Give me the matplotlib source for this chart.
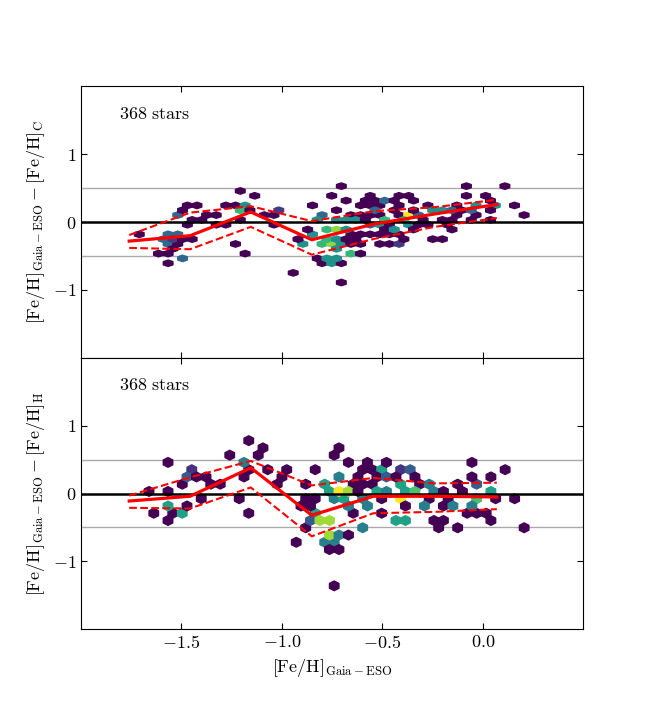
import numpy as np
import matplotlib
matplotlib.use("Agg")
import matplotlib.pyplot as plt

plt.rcParams['font.family'] = 'serif'
plt.rcParams['font.serif'] = ['cmr10', 'DejaVu Serif']
plt.rcParams['mathtext.fontset'] = 'cm'
plt.rcParams['axes.formatter.use_mathtext'] = True
plt.rcParams['font.size'] = 13

# hexbin cells: x, y, number of stars
top_x = [-1.710, -1.573, -1.522, -1.598, -1.548, -1.573, -1.517, -1.482, -1.441,
         -1.619, -1.568, -1.543, -1.568, -1.497, -1.527, -1.507, -1.482, -1.431,
         -1.466, -1.446, -1.395, -1.375, -1.324, -1.324, -1.273, -1.273, -1.223,
         -1.212, -1.141, -1.182, -1.207, -1.156, -1.090, -1.040, -1.040, -1.019,
         -1.233, -1.182, -1.202, -0.943, -0.999, -0.918, -0.867, -0.847,
         -0.751, -0.677, -0.701, -0.701,
         -0.793, -0.727, -0.677, -0.834, -0.743, -0.685, -0.775, -0.727, -0.677,
         -0.834, -0.785, -0.735, -0.677, -0.810, -0.768, -0.719, -0.661,
         -0.826, -0.775, -0.727, -0.677, -0.793, -0.743, -0.701, -0.884,
         -0.594, -0.544, -0.486, -0.436, -0.394, -0.627, -0.577, -0.528, -0.461,
         -0.410, -0.627, -0.577, -0.511, -0.436, -0.378, -0.627, -0.577, -0.528,
         -0.478, -0.394, -0.461, -0.627, -0.562, -0.511, -0.436, -0.627, -0.511,
         -0.461, -0.410, -0.613,
         -0.369, -0.345, -0.362, -0.328, -0.271, -0.245, -0.195, -0.146, -0.095,
         -0.030, 0.028, -0.129, -0.080, 0.012, -0.080, 0.111, 0.070, 0.161,
         0.206, -0.062, 0.037, -0.146, -0.253, -0.195, -0.146, -0.253, -0.195,
         -0.362, -0.386, -0.403, -0.288, -0.013, 0.037,
         -0.55, -0.50, -0.45, -0.60, -0.48, -0.30, -0.22, -0.12, -0.05, -0.33,
         -0.56, -0.49, -0.71, -0.66]
top_y = [-0.18, -0.18, -0.18, -0.25, -0.25, -0.32, -0.33, -0.25, -0.25,
         -0.45, -0.45, -0.38, -0.60, -0.53, 0.11, 0.18, 0.25, 0.25,
         -0.03, 0.04, 0.04, 0.11, 0.11, -0.03, -0.03, 0.25, 0.25,
         0.46, 0.38, 0.24, 0.17, 0.17, 0.12, 0.12, -0.03, 0.18,
         -0.32, -0.46, 0.01, -0.745, 0.19, -0.255, -0.10, 0.245,
         0.38, 0.32, 0.53, -0.89,
         0.09, 0.15, 0.11, 0.02, 0.04, 0.02, -0.08, -0.10, -0.11,
         -0.16, -0.23, -0.23, -0.23, -0.33, -0.35, -0.33, -0.35,
         -0.50, -0.50, -0.50, -0.48, -0.61, -0.61, -0.61, -0.33,
         0.31, 0.31, 0.32, 0.31, 0.38, 0.235, 0.235, 0.19, 0.19,
         0.235, 0.11, 0.11, 0.09, 0.11, 0.11, 0.02, 0.04, -0.03,
         0.04, 0.04, -0.06, -0.16, -0.16, -0.18, -0.16, -0.28, -0.28,
         -0.28, -0.30, -0.46,
         0.38, 0.31, 0.0, 0.186, 0.245, 0.16, 0.16, 0.16, 0.16,
         0.22, 0.31, 0.245, 0.38, 0.39, 0.53, 0.53, 0.245, 0.245,
         0.10, 0.064, 0.04, 0.04, -0.06, -0.06, -0.10, -0.255, -0.255,
         -0.13, -0.23, -0.30, 0.04, 0.12, 0.15,
         -0.06, -0.10, -0.10, -0.35, -0.20, 0.11, 0.04, 0.11, 0.18, -0.04,
         0.38, 0.25, -0.40, -0.20]
top_n = [1, 3, 3, 3, 2, 3, 1, 1, 1,
         1, 1, 1, 1, 3, 3, 1, 1, 1,
         1, 1, 1, 1, 1, 1, 1, 1, 1,
         1, 1, 4, 5, 1, 1, 1, 1, 1,
         1, 1, 1, 1, 1, 1, 1, 1,
         1, 1, 1, 1,
         3, 1, 1, 4, 4, 4, 5, 6, 4,
         4, 5, 4, 1, 5, 6, 4, 1,
         1, 4, 4, 5, 1, 4, 1, 4,
         1, 1, 3, 1, 1, 1, 1, 3, 1,
         1, 1, 1, 1, 1, 7, 4, 1, 4,
         5, 5, 1, 1, 1, 1, 1, 1, 1,
         1, 1, 1,
         1, 1, 4, 1, 1, 4, 4, 3, 1,
         4, 1, 1, 1, 1, 1, 1, 4, 1,
         1, 1, 1, 1, 1, 1, 1, 1, 1,
         1, 1, 1, 1, 1, 1,
         3, 1, 4, 1, 1, 3, 1, 1, 3, 1,
         1, 1, 4, 1]

bot_x = [-1.685, -1.588, -1.588, -1.517, -1.615, -1.565, -1.588, -1.487,
         -1.544, -1.517, -1.482, -1.466, -1.426, -1.424, -1.375, -1.344, -1.294,
         -1.424, -1.233, -1.182, -1.182, -1.111, -1.131, -1.278, -1.208, -1.172,
         -1.080, -1.208, -1.034, -0.989, -0.943, -0.725,
         -0.725, -0.751, -0.677, -0.844, -0.989, -0.582, -0.486, -0.511, -0.562,
         -0.410, -0.725, -0.801, -0.725, -0.674, -0.775, -0.745, -0.694, -0.897,
         -0.847, -0.918, -0.826, -0.796, -0.745, -0.847, -0.877, -0.775, -0.725,
         -0.677, -0.796, -0.751, -0.775, -0.725, -0.603, -0.652, -0.623, -0.562,
         -0.582, -0.532, -0.461, -0.389, -0.501, -0.436, -0.386, -0.613, -0.542,
         -0.058, 0.111, -0.058, 0.037, 0.161, 0.206, -0.359, -0.400, 0.037,
         -0.030, -0.054, -0.146, -0.196, -0.298, -0.345, -0.420, -0.080, -0.030,
         0.020, 0.037, -0.247, -0.196, -0.227, -0.125, 0.068, -0.394, -0.298,
         -0.247, -0.186, -0.095, -0.237, -0.288,
         -0.63, -0.53, -0.46, -0.60, -0.50, -0.44, -0.65, -0.55, -0.36, -0.50,
         -0.40, -0.12, -0.02, -0.15, -0.60, -0.88, -0.84]
bot_y = [0.03, 0.03, -0.16, -0.30, -0.28, -0.28, -0.38, -0.18,
         0.46, 0.155, 0.25, 0.36, 0.36, 0.25, 0.25, 0.155, 0.155,
         -0.08, -0.08, -0.30, 0.78, 0.68, 0.565, 0.565, 0.45, 0.36,
         0.36, 0.25, 0.155, 0.36, -0.72, -1.36,
         0.69, 0.58, 0.45, 0.36, 0.25, 0.45, 0.45, 0.35, 0.35,
         0.35, 0.25, 0.155, 0.03, 0.03, 0.03, -0.09, -0.09, -0.09,
         -0.09, -0.20, -0.28, -0.40, -0.40, -0.40, -0.52, -0.62, -0.62,
         -0.62, -0.74, -0.74, -0.84, -0.84, -0.50, -0.18, -0.30, -0.20,
         0.155, 0.155, 0.06, 0.03, -0.30, -0.40, -0.40, 0.06, 0.06,
         0.47, 0.36, 0.24, 0.24, -0.08, -0.50, 0.35, 0.35, 0.05,
         -0.06, -0.18, -0.18, -0.18, -0.18, 0.05, -0.09, -0.28, -0.28,
         -0.28, -0.40, -0.40, -0.40, -0.51, -0.51, -0.06, 0.17, 0.17,
         0.17, 0.06, 0.06, 0.06, -0.06,
         0.25, 0.25, 0.25, 0.35, 0.35, 0.25, 0.155, 0.06, 0.25, -0.09,
         -0.20, 0.17, 0.17, -0.06, -0.06, 0.155, -0.20]
bot_n = [1, 1, 5, 5, 1, 1, 1, 1,
         1, 1, 3, 1, 1, 1, 1, 1, 1,
         1, 1, 1, 1, 1, 1, 1, 4, 1,
         1, 1, 1, 1, 1, 1,
         1, 1, 1, 1, 1, 1, 1, 4, 1,
         1, 4, 5, 8, 7, 5, 4, 5, 1,
         1, 1, 5, 7, 7, 3, 1, 7, 4,
         1, 4, 4, 1, 1, 4, 4, 1, 4,
         1, 1, 4, 5, 1, 5, 5, 1, 1,
         1, 1, 1, 1, 1, 1, 3, 1, 5,
         6, 4, 4, 1, 4, 6, 8, 1, 1,
         1, 1, 1, 1, 1, 1, 1, 5, 1,
         4, 1, 1, 4, 1,
         1, 1, 3, 1, 1, 1, 1, 4, 1, 1,
         1, 1, 3, 1, 4, 1, 1]

# binned median and spread (red lines)
bin_x = [-1.76, -1.457, -1.155, -0.851, -0.545, -0.24, 0.07]
top_med = [-0.28, -0.20, 0.15, -0.26, -0.03, 0.12, 0.26]
top_hi = [-0.19, 0.14, 0.235, 0.015, 0.16, 0.22, 0.33]
top_lo = [-0.38, -0.40, -0.07, -0.48, -0.25, -0.07, 0.06]
bot_med = [-0.11, -0.04, 0.38, -0.32, -0.04, -0.04, -0.05]
bot_hi = [-0.03, 0.24, 0.48, 0.12, 0.23, 0.15, 0.16]
bot_lo = [-0.21, -0.22, 0.09, -0.63, -0.29, -0.27, -0.23]

n_stars = 368
ylabels = [r'$[\mathrm{Fe/H}]_{\mathrm{Gaia-ESO}} - [\mathrm{Fe/H}]_{\mathrm{C}}$',
           r'$[\mathrm{Fe/H}]_{\mathrm{Gaia-ESO}} - [\mathrm{Fe/H}]_{\mathrm{H}}$']

fig, axes = plt.subplots(2, 1, sharex=True, figsize=(6.48, 7.2), dpi=100)
fig.subplots_adjust(left=0.125, right=0.9, top=0.88, bottom=0.126, hspace=0)

panels = [(top_x, top_y, top_n, top_med, top_hi, top_lo),
          (bot_x, bot_y, bot_n, bot_med, bot_hi, bot_lo)]

for ax, (px, py, pn, med, hi, lo), lab in zip(axes, panels, ylabels):
    xs = np.repeat(px, pn)
    ys = np.repeat(py, pn)
    ax.hexbin(xs, ys, gridsize=(40, 10), cmap='viridis', mincnt=1, zorder=2)
    ax.axhline(0.5, color='darkgray', lw=1, zorder=1)
    ax.axhline(-0.5, color='darkgray', lw=1, zorder=1)
    ax.axhline(0, color='k', lw=1.8, zorder=3)
    ax.plot(bin_x, med, color='red', lw=2.3, zorder=4)
    ax.plot(bin_x, hi, color='red', lw=1.5, ls='--', zorder=4)
    ax.plot(bin_x, lo, color='red', lw=1.5, ls='--', zorder=4)
    ax.text(0.075, 0.9, r'$\mathrm{%d\ stars}$' % n_stars, transform=ax.transAxes,
            fontsize=13, va='center', ha='left')
    ax.set_ylim(-2, 2)
    ax.set_yticks([-1, 0, 1])
    ax.set_ylabel(lab, fontsize=13)
    ax.tick_params(direction='in', top=True, right=True, labelsize=13,
                   length=4, width=0.8)

axes[1].set_xlim(-2.0, 0.5)
axes[1].set_xticks([-1.5, -1.0, -0.5, 0.0])
axes[1].set_xlabel(r'$[\mathrm{Fe/H}]_{\mathrm{Gaia-ESO}}$', fontsize=13)

plt.savefig('out.png', dpi=100)
